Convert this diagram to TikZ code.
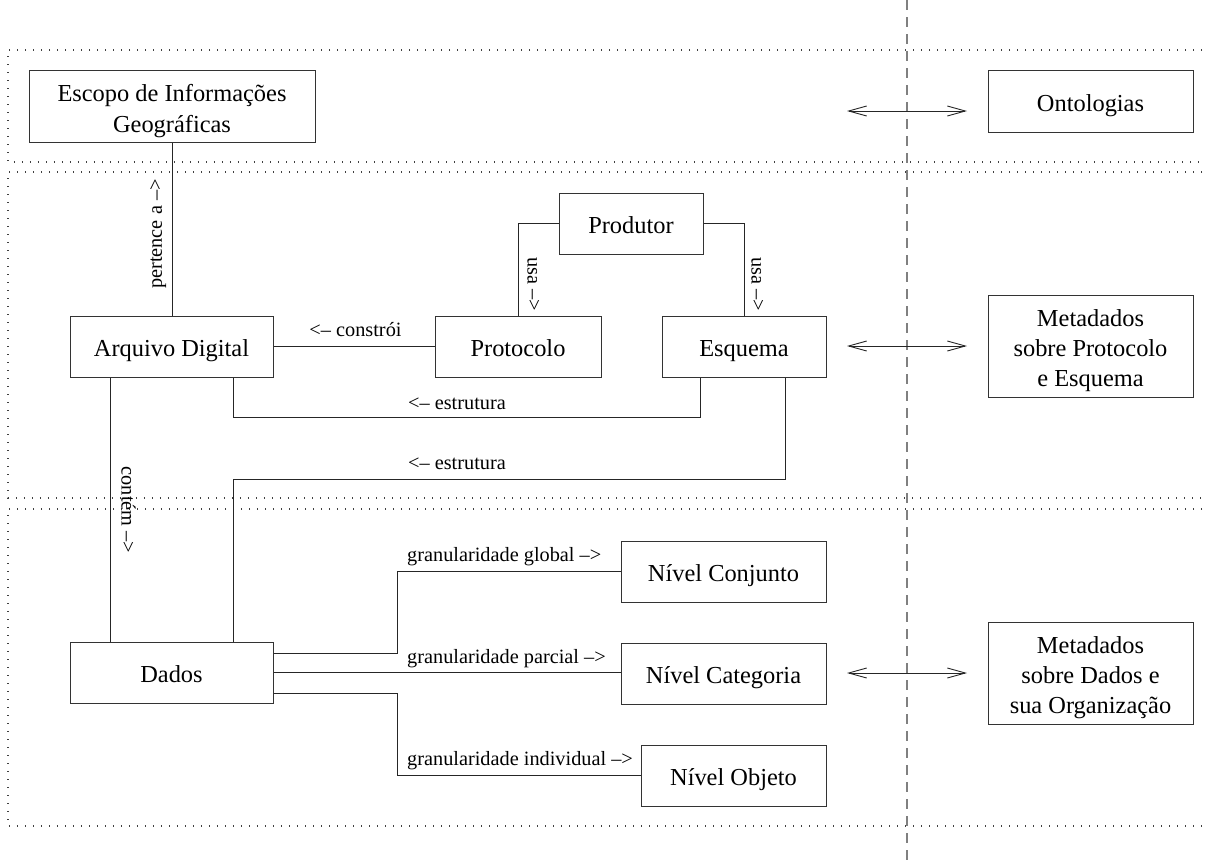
\documentclass[tikz,border=0pt]{standalone}
\usepackage{fontspec}
\setmainfont{Liberation Serif}
\usetikzlibrary{arrows.meta}
\begin{document}
\begin{tikzpicture}[x=1pt,y=-1pt,
  box/.style={draw=black!80, line width=1pt, inner sep=0pt, align=center,
    font=\fontsize{24.4}{31}\selectfont},
  one/.style={text height=20pt, text depth=0pt},
  two/.style={text height=52pt, text depth=0pt},
  three/.style={font=\fontsize{24.4}{30}\selectfont, text height=81.4pt, text depth=0pt},
  link/.style={draw=black!85, line width=0.9pt},
  lbl/.style={inner sep=0pt, font=\fontsize{20.3}{24}\selectfont},
  band/.style={draw=black!75, line width=1.1pt, dash pattern=on 1.1pt off 6.9pt},
  divider/.style={draw=black!50, line width=1.3pt, dash pattern=on 10pt off 7pt},
  both/.style={draw=black!85, line width=0.9pt,
    {Straight Barb[length=18pt,width=10pt,line width=0.9pt]}-{Straight Barb[length=18pt,width=10pt,line width=0.9pt]}}]

\useasboundingbox (0,0) rectangle (1205,863);

% dotted bands, open to the right
\draw[band] (1210,50) -- (8,50) -- (8,162) -- (1210,162);
\draw[band] (1210,172) -- (8,172) -- (8,498) -- (1210,498);
\draw[band] (1210,509) -- (8,509) -- (8,826) -- (1210,826);

% vertical divider
\draw[divider] (907,0) -- (907,863);

% boxes
\node[box, two, minimum width=286pt, minimum height=72pt] (esc) at (172,106) {Escopo de Informações\\Geográficas};
\node[box, one, minimum width=205pt, minimum height=62pt] (ont) at (1090.5,101) {Ontologias};
\node[box, one, minimum width=144pt, minimum height=61pt] (prod) at (631,223.5) {Produtor};
\node[box, one, minimum width=203pt, minimum height=61pt] (arq) at (171.5,346.5) {Arquivo Digital};
\node[box, one, minimum width=166pt, minimum height=61pt] (prot) at (518,346.5) {Protocolo};
\node[box, one, minimum width=164pt, minimum height=61pt] (esq) at (744,346.5) {Esquema};
\node[box, three, minimum width=205pt, minimum height=102pt] (mpe) at (1090.5,346) {Metadados\\sobre Protocolo\\e Esquema};
\node[box, one, minimum width=203pt, minimum height=61pt] (dados) at (171.5,672.5) {Dados};
\node[box, one, minimum width=205pt, minimum height=61pt] (conj) at (723.5,571.5) {Nível Conjunto};
\node[box, one, minimum width=205pt, minimum height=61pt] (cat) at (723.5,673.5) {Nível Categoria};
\node[box, one, minimum width=185pt, minimum height=61pt] (obj) at (733.5,775.5) {Nível Objeto};
\node[box, three, minimum width=205pt, minimum height=102pt] (mdo) at (1090.5,673) {Metadados\\sobre Dados e\\sua Organização};

% helper coordinates for routed connectors
\coordinate (cx) at (110,0);
\coordinate (e1l) at (233,417);
\coordinate (e1r) at (700,417);
\coordinate (e2r) at (785,479);
\coordinate (e2l) at (233,479);
\coordinate (g) at (397,0);

% connectors
\draw[link] (esc.south) -- (esc.south |- arq.north);
\draw[link] (prod.west) -| (prot.north);
\draw[link] (prod.east) -| (esq.north);
\draw[link] (arq.east) -- (prot.west);
\draw[link] (arq.south -| e1l) -- (e1l) -- (e1r) -- (esq.south -| e1r);
\draw[link] (esq.south -| e2r) -- (e2r) -- (e2l) -- (dados.north -| e2l);
\draw[link] (arq.south -| cx) -- (dados.north -| cx);
\draw[link] ([yshift=19.5pt]dados.east) -- ([yshift=19.5pt]dados.east -| g) |- (conj.west);
\draw[link] (dados.east) -- (dados.east -| cat.west);
\draw[link] ([yshift=-20.5pt]dados.east) -- ([yshift=-20.5pt]dados.east -| g) |- (obj.west);

% connector labels
\node[lbl, rotate=90, anchor=mid] (lpert) at (159.5,234) {pertence a -->};
\node[lbl, rotate=-90, anchor=mid] (lcont) at (124,510) {contém -->};
\node[lbl, rotate=-90, anchor=mid] (lusa1) at (530,284) {usa -->};
\node[lbl, rotate=-90, anchor=mid] (lusa2) at (754,284) {usa -->};
\node[lbl, anchor=mid] (lcons) at (355.5,334) {<-- constrói};
\node[lbl, anchor=mid] (lest1) at (457,407) {<-- estrutura};
\node[lbl, anchor=mid] (lest2) at (457,467) {<-- estrutura};
\node[lbl, anchor=mid west] (lglob) at (407,559) {granularidade global -->};
\node[lbl, anchor=mid west] (lparc) at (407,661) {granularidade parcial -->};
\node[lbl, anchor=mid west] (lind) at (407,763) {granularidade individual -->};

% two-way links across the divider
\coordinate (a1l) at (847,111);
\coordinate (a1r) at (967,111);
\coordinate (a2l) at (847,346);
\coordinate (a2r) at (967,346);
\coordinate (a3l) at (847,673);
\coordinate (a3r) at (967,673);
\draw[both] (a1l) -- (a1r);
\draw[both] (a2l) -- (a2r);
\draw[both] (a3l) -- (a3r);

\end{tikzpicture}
\end{document}
